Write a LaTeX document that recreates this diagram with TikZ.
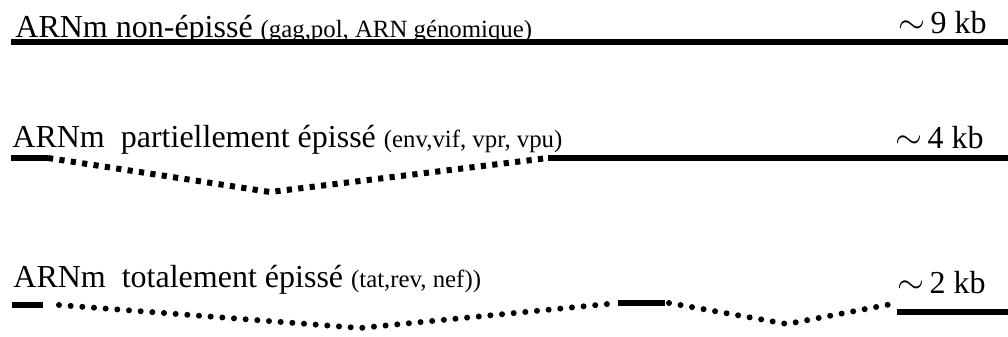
\documentclass[tikz,border=0pt]{standalone}
\usepackage{fontspec}
\setmainfont{Liberation Serif}
\usepackage{tikz}

\newcommand{\genesize}{\fontsize{12.4}{14}\selectfont}

\tikzset{
  rnatext/.style={anchor=base west, inner sep=0pt, font=\fontsize{16}{18}\selectfont},
  exon/.style={line width=3pt},
  intronsq/.style={line width=3pt, dash pattern=on 2.6pt off 3.15pt},
  introndot/.style={line width=3pt, line cap=round, dash pattern=on 0pt off 5.85pt}
}

\begin{document}
\begin{tikzpicture}[x=0.5pt,y=-0.5pt]
          \useasboundingbox (0,0) rectangle (1008,337);

          % unspliced mRNA
          \node[rnatext] (lbl1) at (15,37) {ARNm non-épissé {\genesize(gag,pol, ARN génomique)}};
          \node[rnatext] (size1) at (898,33) {$\sim$\,9 kb};
          \coordinate (a1) at (11,42);
          \coordinate (a2) at (1008,42);
          \draw[exon] (a1) -- (a2);

          % partially spliced mRNA
          \node[rnatext] (lbl2) at (12,147) {ARNm\ \ partiellement épissé {\genesize(env,vif, vpr, vpu)}};
          \node[rnatext] (size2) at (895,148) {$\sim$\,4 kb};
          \coordinate (b1) at (11,158);
          \coordinate (b2) at (48,158);
          \coordinate (b3) at (270,192);
          \coordinate (b4) at (548,158);
          \coordinate (b5) at (1008,158);
          \draw[exon] (b1) -- (b2);
          \draw[intronsq] (b2) -- (b3) -- (b4);
          \draw[exon] (b4) -- (b5);

          % fully spliced mRNA
          \node[rnatext] (lbl3) at (13,287) {ARNm\ \ totalement épissé {\genesize(tat,rev, nef))}};
          \node[rnatext] (size3) at (897,293) {$\sim$\,2 kb};
          \coordinate (c1) at (12,305);
          \coordinate (c2) at (43,305);
          \coordinate (c3) at (360,328);
          \coordinate (c4) at (618,303);
          \coordinate (c5) at (665,303);
          \coordinate (c6) at (787,324);
          \coordinate (c7) at (897,303);
          \coordinate (c8) at (897,312);
          \coordinate (c9) at (1008,312);
          \draw[exon] (c1) -- (c2);
          \draw[introndot] ([xshift=8pt]c2) -- (c3) -- (c4);
          \draw[exon] (c4) -- (c5);
          \draw[introndot] ([xshift=2pt]c5) -- (c6) -- (c7);
          \draw[exon] (c8) -- (c9);
\end{tikzpicture}
\end{document}
